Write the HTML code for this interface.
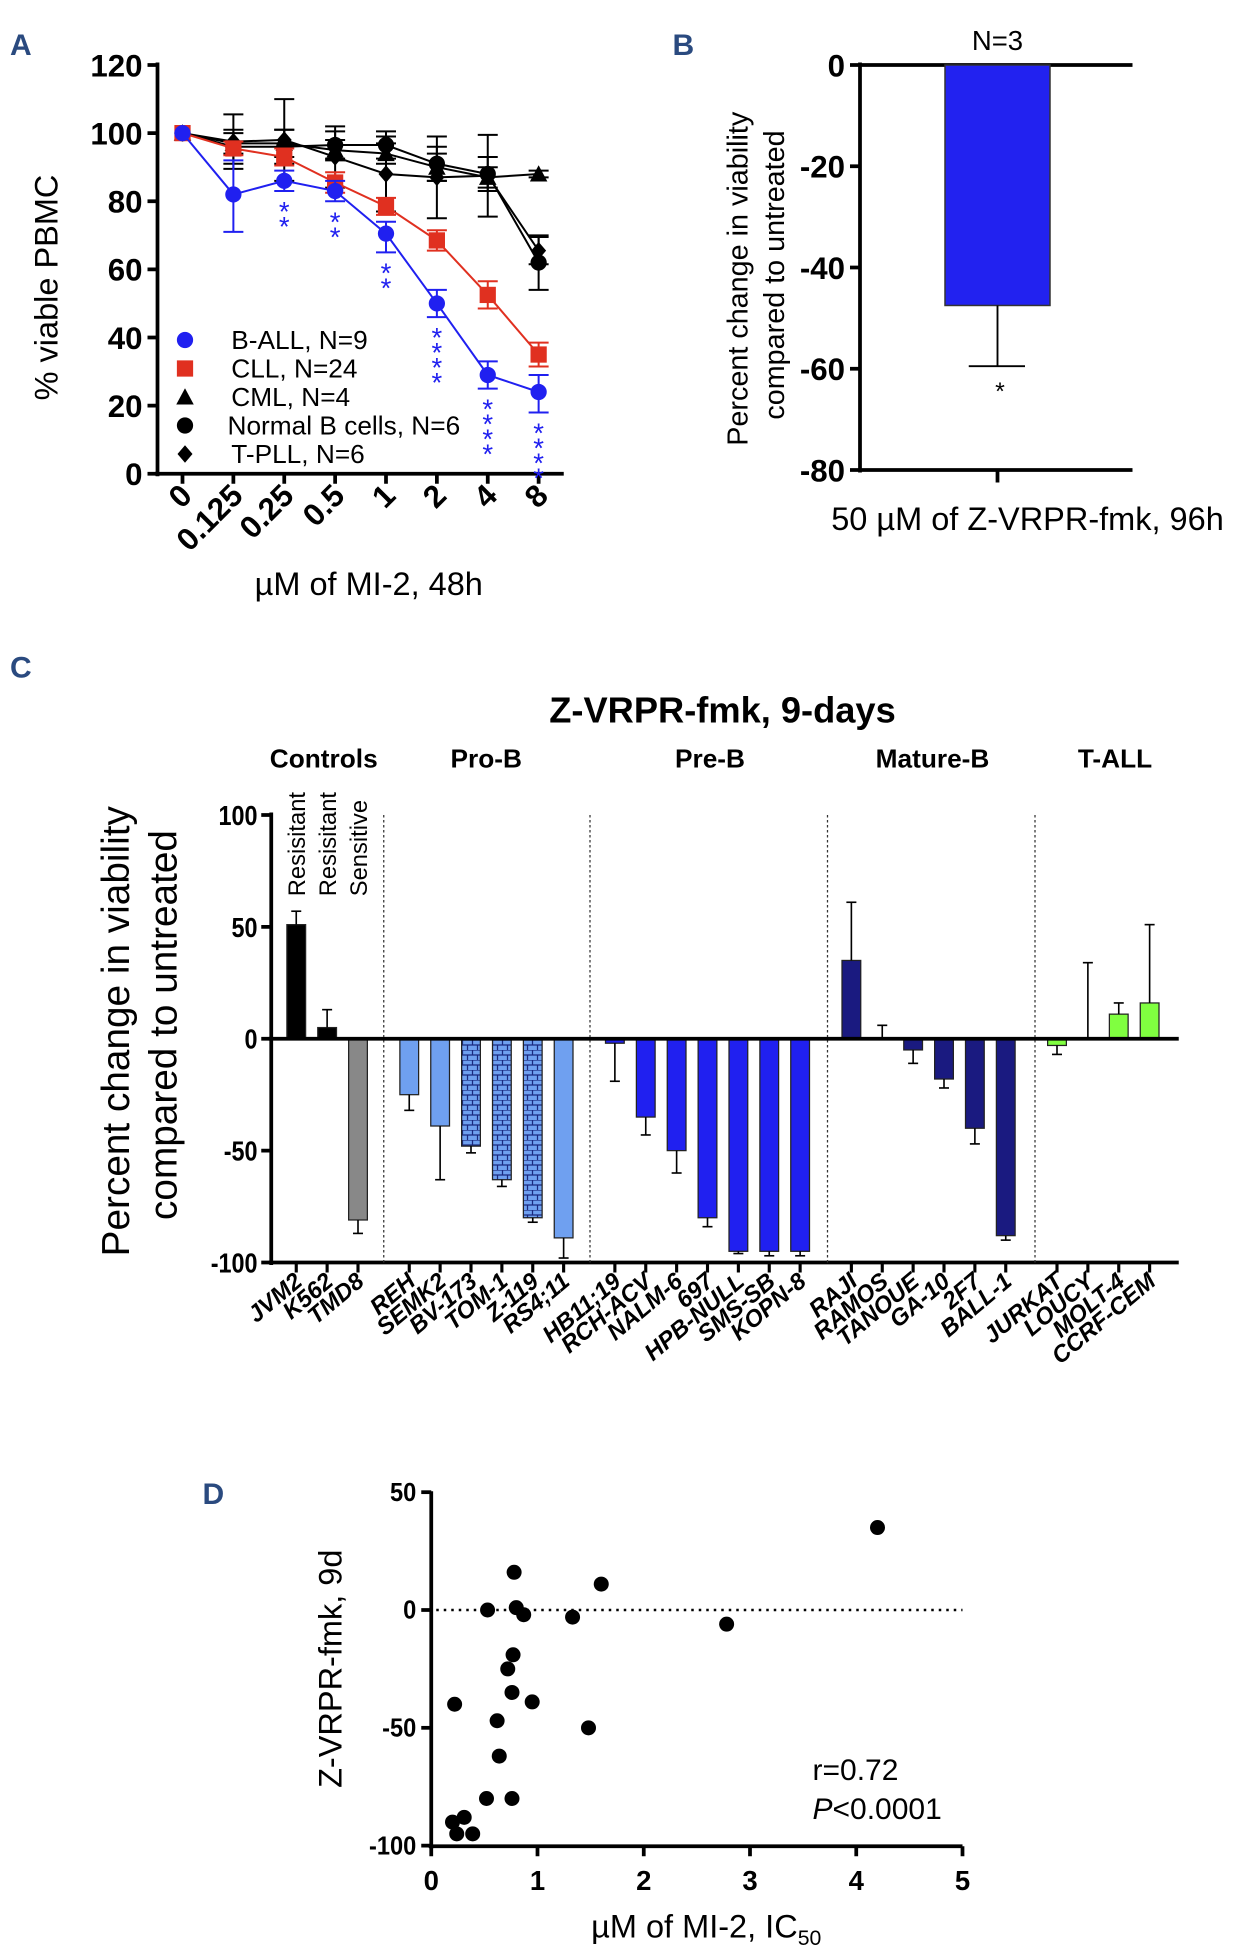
<!DOCTYPE html>
<html><head><meta charset="utf-8"><style>
html,body{margin:0;padding:0;background:#fff}
svg{display:block;font-family:"Liberation Sans",Arial,sans-serif}
</style></head><body>
<svg id="s" width="1250" height="1957" viewBox="0 0 1000 1565.6">
<defs>
<pattern id="brick" width="8" height="8" patternUnits="userSpaceOnUse"><rect width="8" height="8" fill="#6fa0f0"/><path d="M0 0H8M0 4H8M2 0V4M6 4V8" stroke="#1a2a80" stroke-width="1"/></pattern>
</defs>
<g id="gA"></g>
<g id="gB"></g>
<g id="gC"></g>
<g id="gD"></g>
</svg>
<script>
// Panel A data
const aDoses=["0","0.125","0.25","0.5","1","2","4","8"];
const aBALL=[100,82,86,83,70.5,50,29,24];
const aBALLlo=[100,71,83,80,65,46,25,18];
const aBALLhi=[100,92,89,86,74,54,33,29];
const aCLL=[100,95.5,93,85.5,78.5,68.5,52.5,35];
const aCLLerr=[0,2,2.5,3,2.5,3,4,3.5];
const aCML=[100,97,97,95,94,90,87,88];
const aCMLerr=[0,3,4,3,3,4,3,1];
const aNB=[100,96,96,96.5,96.5,91,88,62];
const aNBerr=[0,5,5,4,4,5,5,8];
const aTPLL=[100,97.5,98,93,88,87,87.5,65.5];
const aTPLLerr=[0,8,12,9,11,12,12,4];
const aStars=["","","**","**","**","****","****","****"];
const aYTicks=[0,20,40,60,80,100,120];
// Panel B data
const bVal=[-47.5];const bErr=[12];const bTicks=[0,-20,-40,-60,-80];
// Panel C data
const cNames=["JVM2","K562","TMD8","REH","SEMK2","BV-173","TOM-1","Z-119","RS4;11","HB11;19","RCH-ACV","NALM-6","697","HPB-NULL","SMS-SB","KOPN-8","RAJI","RAMOS","TANOUE","GA-10","2F7","BALL-1","JURKAT","LOUCY","MOLT-4","CCRF-CEM"];
const cVals=[51,5,-81,-25,-39,-48,-63,-80,-89,-2,-35,-50,-80,-95,-95,-95,35,0,-5,-18,-40,-88,-3,0,11,16];
const cErrEnd=[57,13,-87,-32,-63,-51,-66,-82,-98,-19,-43,-60,-84,-96,-97,-97,61,6,-11,-22,-47,-90,-7,34,16,51];
const cGroups=["Controls","Pro-B","Pre-B","Mature-B","T-ALL"];
const cGroupIdx=[0,0,0,1,1,1,1,1,1,2,2,2,2,2,2,2,3,3,3,3,3,3,4,4,4,4];
const cTicks=[100,50,0,-50,-100];
// Panel D data
const dX=[0.22,0.53,0.78,0.8,0.87,1.33,1.6,2.78,4.2,0.77,0.72,0.76,0.95,0.62,1.48,0.64,0.52,0.76,0.2,0.31,0.24,0.39];
const dY=[-40,0,16,1,-2,-3,11,-6,35,-19,-25,-35,-39,-47,-50,-62,-80,-80,-90,-88,-95,-95];
const dXTicks=[0,1,2,3,4,5];const dYTicks=[50,0,-50,-100];

const NS="http://www.w3.org/2000/svg";
function el(p,t,a,txt){const e=document.createElementNS(NS,t);for(const k in a)e.setAttribute(k,a[k]);if(txt!==undefined)e.textContent=txt;p.appendChild(e);return e;}
function lab(p,x,y,t){const e=el(p,"text",{x:x,y:y,"font-size":24,"font-weight":"bold",fill:"#2a4a7f"},t);}

// ===== Panel A =====
const A=document.getElementById("gA");
lab(A,8,44,"A");
const ax=i=>146+i*40.7, ay=v=>379-v*(327/120);
el(A,"line",{x1:126,y1:50,x2:126,y2:381,stroke:"#000","stroke-width":3});
el(A,"line",{x1:124,y1:379,x2:451,y2:379,stroke:"#000","stroke-width":3});
aYTicks.forEach(v=>{el(A,"line",{x1:118,y1:ay(v),x2:126,y2:ay(v),stroke:"#000","stroke-width":3});
 const t=el(A,"text",{x:114,y:ay(v)+9,"text-anchor":"end","font-weight":"bold","font-size":25},v);});
aDoses.forEach((d,i)=>{el(A,"line",{x1:ax(i),y1:379,x2:ax(i),y2:387,stroke:"#000","stroke-width":3});
 const t=el(A,"text",{transform:`translate(${ax(i)+9},${398}) rotate(-45)`,"text-anchor":"end","font-weight":"bold","font-size":25},d);});
function series(vals,lo,hi,color,marker,name){
 const g=el(A,"g",{});
 el(g,"polyline",{points:vals.map((v,i)=>ax(i)+","+ay(v)).join(" "),fill:"none",stroke:color,"stroke-width":1.6});
 vals.forEach((v,i)=>{if(i===0)return;
  el(g,"line",{x1:ax(i),y1:ay(lo[i]),x2:ax(i),y2:ay(hi[i]),stroke:color,"stroke-width":1.6});
  [lo[i],hi[i]].forEach(e=>el(g,"line",{x1:ax(i)-8,y1:ay(e),x2:ax(i)+8,y2:ay(e),stroke:color,"stroke-width":1.6}));});
 vals.forEach((v,i)=>drawMarker(g,ax(i),ay(v),color,marker));
}
function drawMarker(g,x,y,c,m){
 if(m=="circle")el(g,"circle",{cx:x,cy:y,r:6.5,fill:c});
 else if(m=="square")el(g,"rect",{x:x-6.5,y:y-6.5,width:13,height:13,fill:c});
 else if(m=="tri")el(g,"polygon",{points:`${x},${y-7} ${x-7},${y+6} ${x+7},${y+6}`,fill:c});
 else el(g,"polygon",{points:`${x},${y-7} ${x-6},${y} ${x},${y+7} ${x+6},${y}`,fill:c});
}
const pm=(a,e,s)=>a.map((v,i)=>v+s*e[i]);
series(aCML,pm(aCML,aCMLerr,-1),pm(aCML,aCMLerr,1),"#000","tri","cml");
series(aNB,pm(aNB,aNBerr,-1),pm(aNB,aNBerr,1),"#000","circle","normal-b");
series(aTPLL,pm(aTPLL,aTPLLerr,-1),pm(aTPLL,aTPLLerr,1),"#000","diamond","tpll");
series(aCLL,pm(aCLL,aCLLerr,-1),pm(aCLL,aCLLerr,1),"#e03020","square","cll");
series(aBALL,aBALLlo,aBALLhi,"#2020f0","circle","ball");
aStars.forEach((s,i)=>{for(let k=0;k<s.length;k++){const t=el(A,"text",{x:ax(i),y:ay(aBALLlo[i])+24+k*12,"text-anchor":"middle","font-size":22,fill:"#2020f0"},"*");}});
const legN=["B-ALL, N=9","CLL, N=24","CML, N=4","Normal B cells, N=6","T-PLL, N=6"],legC=["#2020f0","#e03020","#000","#000","#000"],legM=["circle","square","tri","circle","diamond"];
legN.forEach((n,i)=>{const y=272+i*22.8;const g=el(A,"g",{});
 drawMarker(g,148,y,legC[i],legM[i]);el(g,"text",{x:i==3?182:185,y:y+7,"font-size":21},n);});
let t=el(A,"text",{x:295,y:476,"text-anchor":"middle","font-size":26},"µM of MI-2, 48h");
t=el(A,"text",{transform:"translate(46,230) rotate(-90)","text-anchor":"middle","font-size":26},"% viable PBMC");

// ===== Panel B =====
const B=document.getElementById("gB");
lab(B,538,44,"B");
const by=v=>52-v*(324/80);
const bx0=688;
el(B,"line",{x1:bx0,y1:50,x2:bx0,y2:378,stroke:"#000","stroke-width":3});
el(B,"line",{x1:bx0,y1:52,x2:906,y2:52,stroke:"#000","stroke-width":3});
el(B,"line",{x1:bx0,y1:376,x2:906,y2:376,stroke:"#000","stroke-width":3});
el(B,"line",{x1:798,y1:376,x2:798,y2:386,stroke:"#000","stroke-width":3});
bTicks.forEach(v=>{el(B,"line",{x1:bx0-8,y1:by(v),x2:bx0,y2:by(v),stroke:"#000","stroke-width":3});
 const tt=el(B,"text",{x:bx0-12,y:by(v)+9,"text-anchor":"end","font-weight":"bold","font-size":25},v);});
bVal.forEach((v,i)=>{const r=el(B,"rect",{x:756,y:by(0),width:84,height:by(v)-by(0),fill:"#2222f0",stroke:"#333","stroke-width":1.2});
 el(B,"line",{x1:798,y1:by(v),x2:798,y2:by(v-bErr[i]),stroke:"#000","stroke-width":1.5});
 el(B,"line",{x1:775,y1:by(v-bErr[i]),x2:820,y2:by(v-bErr[i]),stroke:"#000","stroke-width":1.5});
 el(B,"text",{x:800,y:by(v-bErr[i])+27,"text-anchor":"middle","font-size":20},"*");});
t=el(B,"text",{x:798,y:40,"text-anchor":"middle","font-size":22},"N=3");
t=el(B,"text",{x:822,y:424,"text-anchor":"middle","font-size":26},"50 µM of Z-VRPR-fmk, 96h");
t=el(B,"text",{transform:"translate(598,223) rotate(-90)","text-anchor":"middle","font-size":23},"Percent change in viability");
el(B,"text",{transform:"translate(627,220) rotate(-90)","text-anchor":"middle","font-size":23},"compared to untreated");

// ===== Panel C =====
const C=document.getElementById("gC");
lab(C,8,542,"C");
const cy=v=>831-v*1.79;
const cx=i=>237+i*24.7+cGroupIdx[i]*16.3;
const cColors=["#000","#000","#888","#6fa0f0","#6fa0f0","url(#brick)","url(#brick)","url(#brick)","#6fa0f0","#2020f0","#2020f0","#2020f0","#2020f0","#2020f0","#2020f0","#2020f0","#1a1a80","#1a1a80","#1a1a80","#1a1a80","#1a1a80","#1a1a80","#80ff40","#80ff40","#80ff40","#80ff40"];
el(C,"line",{x1:217,y1:650,x2:217,y2:1012,stroke:"#000","stroke-width":3});
el(C,"line",{x1:215,y1:1010,x2:943,y2:1010,stroke:"#000","stroke-width":3});
cTicks.forEach(v=>{el(C,"line",{x1:209,y1:cy(v),x2:217,y2:cy(v),stroke:"#000","stroke-width":3});
 const tt=el(C,"text",{x:206,y:cy(v)+8,"text-anchor":"end","font-size":22,"font-weight":"bold",transform:`scale(0.85,1)`,"transform-origin":`206 ${cy(v)}`},v);});
[307,472,662,828].forEach(x=>{const l=el(C,"line",{x1:x,y1:652,x2:x,y2:1010,stroke:"#333","stroke-width":1,"stroke-dasharray":"2,2"});});
cNames.forEach((n,i)=>{const v=cVals[i],x=cx(i);
 const r=el(C,"rect",{x:x-7.5,y:Math.min(cy(v),cy(0)),width:15,height:Math.max(Math.abs(cy(v)-cy(0)),0.5),fill:cColors[i],stroke:"#222","stroke-width":1});
 
 el(C,"line",{x1:x,y1:cy(v),x2:x,y2:cy(cErrEnd[i]),stroke:"#000","stroke-width":1.3});
 el(C,"line",{x1:x-4,y1:cy(cErrEnd[i]),x2:x+4,y2:cy(cErrEnd[i]),stroke:"#000","stroke-width":1.3});
 el(C,"line",{x1:x,y1:1010,x2:x,y2:1018,stroke:"#000","stroke-width":2.5});
 const tt=el(C,"text",{transform:`translate(${x+6},${1027}) rotate(-40)`,"text-anchor":"end","font-size":19,"font-weight":"bold","font-style":"italic"},n);
});
el(C,"line",{x1:215,y1:831,x2:943,y2:831,stroke:"#000","stroke-width":3});
const gx=[259,389,568,746,892];
cGroups.forEach((g,i)=>{const tt=el(C,"text",{x:gx[i],y:614,"text-anchor":"middle","font-size":21,"font-weight":"bold"},g);});
["Resisitant","Resisitant","Sensitive"].forEach((s,i)=>{el(C,"text",{transform:`translate(${cx(i)+7},717) rotate(-90)`,"font-size":19},s);});
t=el(C,"text",{x:578,y:578,"text-anchor":"middle","font-size":29,"font-weight":"bold"},"Z-VRPR-fmk, 9-days");
t=el(C,"text",{transform:"translate(103,825) rotate(-90)","text-anchor":"middle","font-size":31},"Percent change in viability");
el(C,"text",{transform:"translate(141,820) rotate(-90)","text-anchor":"middle","font-size":31},"compared to untreated");

// ===== Panel D =====
const D=document.getElementById("gD");
lab(D,162,1203,"D");
const dx=v=>345+v*85, dy=v=>1288-v*1.885;
el(D,"line",{x1:345,y1:1193,x2:345,y2:1479,stroke:"#000","stroke-width":3});
el(D,"line",{x1:343,y1:1477,x2:770,y2:1477,stroke:"#000","stroke-width":3});
el(D,"line",{x1:349,y1:dy(0),x2:770,y2:dy(0),stroke:"#000","stroke-width":2,"stroke-dasharray":"2,4"});
dYTicks.forEach(v=>{el(D,"line",{x1:337,y1:dy(v),x2:345,y2:dy(v),stroke:"#000","stroke-width":3});
 const tt=el(D,"text",{x:333,y:dy(v)+7,"text-anchor":"end","font-size":21,"font-weight":"bold",transform:"scale(0.9,1)","transform-origin":`333 ${dy(v)}`},v);});
dXTicks.forEach(v=>{el(D,"line",{x1:dx(v),y1:1477,x2:dx(v),y2:1485,stroke:"#000","stroke-width":3});
 const tt=el(D,"text",{x:dx(v),y:1512,"text-anchor":"middle","font-size":22,"font-weight":"bold"},v);});
dX.forEach((v,i)=>{const c=el(D,"circle",{cx:dx(v),cy:dy(dY[i]),r:6,fill:"#000"});});
t=el(D,"text",{x:650,y:1424,"font-size":24},"r=0.72");
t=el(D,"text",{x:650,y:1455,"font-size":24},"");
el(t,"tspan",{"font-style":"italic"},"P");el(t,"tspan",{},"<0.0001");
t=el(D,"text",{x:565,y:1550,"text-anchor":"middle","font-size":26},"µM of MI-2, IC");
el(t,"tspan",{"font-size":17,dy:6},"50");
t=el(D,"text",{transform:"translate(273,1335) rotate(-90)","text-anchor":"middle","font-size":26},"Z-VRPR-fmk, 9d");
</script>
</body></html>
